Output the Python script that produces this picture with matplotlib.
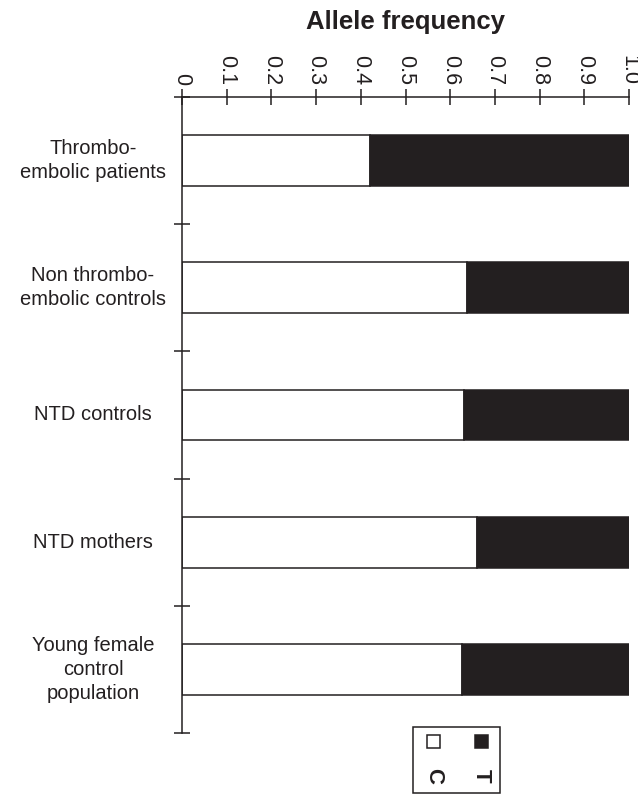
import matplotlib
matplotlib.use("Agg")
import matplotlib.pyplot as plt
from matplotlib.patches import Rectangle
from matplotlib.transforms import blended_transform_factory

plt.rcParams['font.family'] = ['Liberation Sans', 'DejaVu Sans']

categories = ["Thrombo-\nembolic patients", "Non thrombo-\nembolic controls",
              "NTD controls", "NTD mothers", "Young female\ncontrol\npopulation"]
c_freq = [0.421, 0.638, 0.630, 0.660, 0.626]
t_freq = [0.579, 0.362, 0.370, 0.340, 0.374]
x_ticks = [0, 0.1, 0.2, 0.3, 0.4, 0.5, 0.6, 0.7, 0.8, 0.9, 1.0]
x_tick_labels = ["0", "0.1", "0.2", "0.3", "0.4", "0.5", "0.6", "0.7", "0.8", "0.9", "1.0"]
legend_labels = ["C", "T"]

W, H = 638, 795
fig = plt.figure(figsize=(W / 100, H / 100), dpi=100)
ax = fig.add_axes([182 / W, 1 - 733 / H, (629 - 182) / W, (733 - 97) / H])

dark = '#231f20'
pos = [i + 0.5 for i in range(len(categories))]
ax.barh(pos, c_freq, height=0.4, color='white', edgecolor=dark, linewidth=1.1)
ax.barh(pos, t_freq, left=c_freq, height=0.4, color=dark, edgecolor=dark, linewidth=1.1)

ax.set_xlim(0, 1.0)
ax.set_ylim(len(categories), 0)

ax.xaxis.tick_top()
ax.set_xticks(x_ticks)
ax.set_xticklabels(x_tick_labels, rotation=-90, fontsize=15.5)
ax.tick_params(axis='x', direction='inout', length=11, width=1.1, pad=3, colors=dark)
ax.set_yticks(range(len(categories) + 1))
ax.set_yticklabels([])
ax.tick_params(axis='y', direction='inout', length=12, width=1.1, colors=dark)

for s in ['right', 'bottom']:
    ax.spines[s].set_visible(False)
for s in ['top', 'left']:
    ax.spines[s].set_linewidth(1.1)
    ax.spines[s].set_color(dark)

trans = blended_transform_factory(fig.transFigure, ax.transData)
for p, lab in zip(pos, categories):
    ax.text(93 / W, p, lab, transform=trans, ha='center', va='center',
            multialignment='center', fontsize=14.5, color=dark, linespacing=1.35)

fig.text(405 / W, 1 - 22 / H, "Allele frequency", ha='center', va='center',
         fontsize=18.5, fontweight='bold', color=dark)

# legend (rotated layout)
fig.patches.append(Rectangle((413 / W, 1 - 793 / H), 87 / W, 66 / H,
                             transform=fig.transFigure, facecolor='white',
                             edgecolor=dark, linewidth=1.1))
sq_x = [427, 475]
sq_fc = ['white', dark]
for x0, fc, lab in zip(sq_x, sq_fc, legend_labels):
    fig.patches.append(Rectangle((x0 / W, 1 - 748 / H), 13 / W, 13 / H,
                                 transform=fig.transFigure, facecolor=fc,
                                 edgecolor=dark, linewidth=1.1))
    fig.text((x0 + 6.5) / W, 1 - 776 / H, lab, rotation=-90, ha='center', va='center',
             fontsize=16, fontweight='bold', color=dark)

fig.savefig("out.png", dpi=100)
